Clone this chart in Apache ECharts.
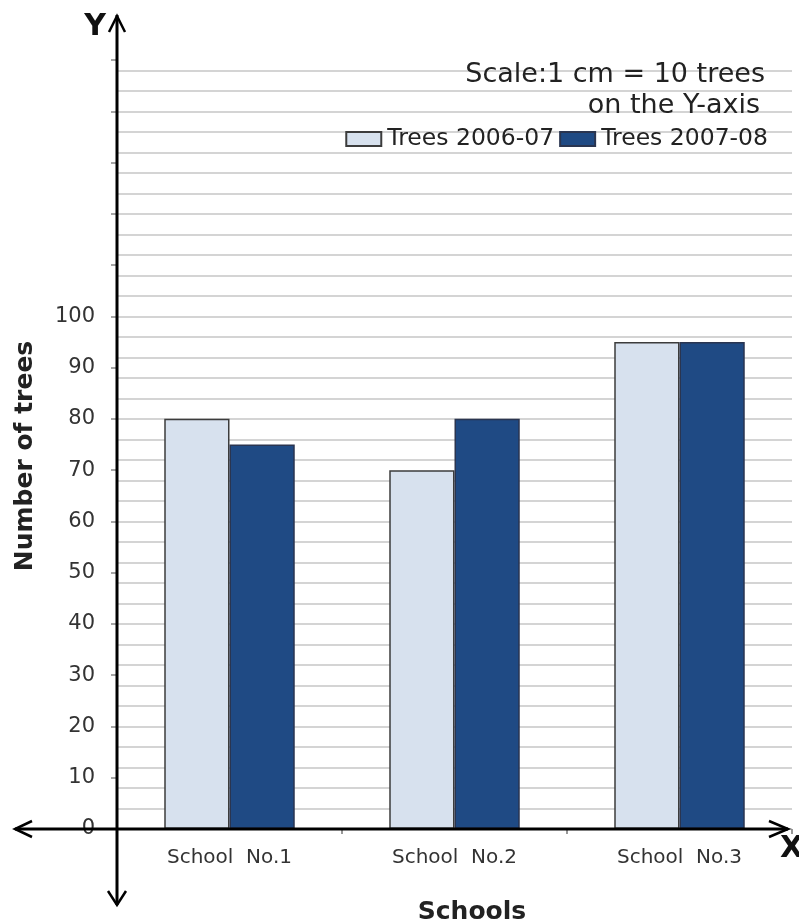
<!DOCTYPE html>
<html>
<head>
<meta charset="utf-8">
<script src="https://cdn.jsdelivr.net/npm/echarts@6/dist/echarts.min.js"></script>
<style>
  html, body { margin: 0; padding: 0; background: #ffffff; }
  #chart { width: 799px; height: 924px; }
</style>
</head>
<body>
<div id="chart"></div>
<script>
// Trees planted per school in two consecutive years
const schools = ['School  No.1', 'School  No.2', 'School  No.3'];
const trees2006_07 = [80, 70, 95];
const trees2007_08 = [75, 80, 95];
const seriesNames = ['Trees 2006-07', 'Trees 2007-08'];
const yLabelLimit = 100;          // tick labels are printed up to this value
const scaleNote = ['Scale:1 cm = 10 trees', 'on the Y-axis'];

const FONT = 'DejaVu Sans';
const LIGHT = '#d7e1ee';
const DARK = '#1f4a84';

// layout of the plotting area
const G = { left: 117, right: 7, top: 60, bottom: 95 };

// light grey ruled lines every 4 units, the last tick (150) left blank
const ruleColors = [];
for (let v = 0; v <= 148; v += 4) ruleColors.push('#c6c6c6');
ruleColors.push('rgba(0,0,0,0)');

const chart = echarts.init(document.getElementById('chart'), null, { renderer: 'canvas' });

const option = {
  animation: false,
  backgroundColor: '#ffffff',
  textStyle: { fontFamily: FONT },
  grid: { left: G.left, right: G.right, top: G.top, bottom: G.bottom, containLabel: false },
  legend: {
    data: seriesNames,
    right: 26,
    top: 122,
    icon: 'rect',
    itemWidth: 35,
    itemHeight: 14,
    itemGap: 5,
    textStyle: { fontFamily: FONT, fontSize: 23.5, color: '#222', padding: [0, 0, 0, 1] }
  },
  xAxis: {
    type: 'category',
    data: schools,
    boundaryGap: true,
    axisLine: { show: false },
    axisTick: { show: true, length: 5, lineStyle: { color: '#777', width: 1.5 } },
    axisLabel: { fontFamily: FONT, fontSize: 20, color: '#333', margin: 19 },
    splitLine: { show: false }
  },
  yAxis: [
    {
      type: 'value',
      min: 0,
      max: 150,
      interval: 10,
      axisLine: { show: false },
      axisTick: { show: true, inside: false, length: 6, lineStyle: { color: '#888', width: 1.5 } },
      axisLabel: {
        fontFamily: FONT, fontSize: 21, color: '#333', margin: 22,
        formatter: v => (v <= yLabelLimit ? String(v) : '')
      },
      splitLine: { show: false }
    },
    {
      type: 'value',
      min: 0,
      max: 150,
      interval: 4,
      position: 'left',
      axisLine: { show: false },
      axisTick: { show: false },
      axisLabel: { show: false },
      splitLine: { show: true, lineStyle: { color: ruleColors, width: 1.5 } }
    }
  ],
  series: [
    {
      name: seriesNames[0],
      type: 'bar',
      yAxisIndex: 0,
      data: trees2006_07,
      barGap: '0%',
      barCategoryGap: '42%',
      itemStyle: { color: LIGHT, borderColor: '#3c3c3c', borderWidth: 1.5 }
    },
    {
      name: seriesNames[1],
      type: 'bar',
      yAxisIndex: 0,
      data: trees2007_08,
      barGap: '0%',
      barCategoryGap: '42%',
      itemStyle: { color: DARK, borderColor: '#2a3550', borderWidth: 1.5 }
    }
  ]
};

chart.setOption(option);

// Axes drawn as full cross-hair lines with open arrow heads
const origin = chart.convertToPixel({ gridIndex: 0 }, [schools[0], 0]);
const ax = G.left;
const ay = origin[1];
const W = chart.getWidth();
const H = chart.getHeight();
const black = { stroke: '#000', lineWidth: 3, fill: null };
const head = { stroke: '#000', lineWidth: 2.5, fill: null };

const graphics = [
  { type: 'line', shape: { x1: ax, y1: 15, x2: ax, y2: H - 19 }, style: black, z: 50 },
  { type: 'line', shape: { x1: 15, y1: ay, x2: W - 11, y2: ay }, style: black, z: 50 },
  { type: 'polyline', shape: { points: [[ax - 8, 32], [ax, 16], [ax + 8, 32]] }, style: head, z: 50 },
  { type: 'polyline', shape: { points: [[ax - 9, H - 33], [ax, H - 19], [ax + 9, H - 33]] }, style: head, z: 50 },
  { type: 'polyline', shape: { points: [[32, ay - 8], [15, ay], [32, ay + 8]] }, style: head, z: 50 },
  { type: 'polyline', shape: { points: [[W - 30, ay - 8], [W - 11, ay], [W - 30, ay + 8]] }, style: head, z: 50 },
  { type: 'text', x: 95, y: 27, style: { text: 'Y', font: 'bold 30px "DejaVu Sans"', fill: '#111', align: 'center', verticalAlign: 'middle' }, z: 60 },
  { type: 'text', x: 780, y: ay + 20, style: { text: 'X', font: 'bold 30px "DejaVu Sans"', fill: '#111', align: 'left', verticalAlign: 'middle' }, z: 60 },
  { type: 'text', x: 472, y: 912, style: { text: 'Schools', font: 'bold 25px "DejaVu Sans"', fill: '#222', align: 'center', verticalAlign: 'middle' }, z: 60 },
  { type: 'text', x: 25, y: 456, rotation: Math.PI / 2, style: { text: 'Number of trees', font: 'bold 25px "DejaVu Sans"', fill: '#222', align: 'center', verticalAlign: 'middle' }, z: 60 },
  { type: 'text', x: 765, y: 75, style: { text: scaleNote[0], font: '27px "DejaVu Sans"', fill: '#222', align: 'right', verticalAlign: 'middle' }, z: 60 },
  { type: 'text', x: 760, y: 106, style: { text: scaleNote[1], font: '27px "DejaVu Sans"', fill: '#222', align: 'right', verticalAlign: 'middle' }, z: 60 }
];

chart.setOption({ graphic: graphics });
</script>
</body>
</html>
